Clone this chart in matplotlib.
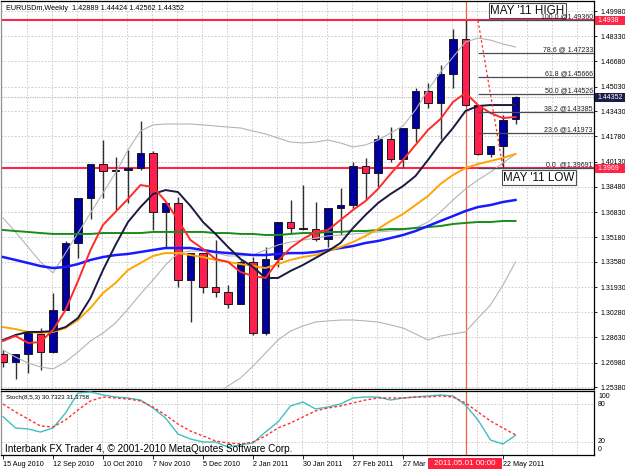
import numpy as np
import matplotlib
matplotlib.use("Agg")
import matplotlib.pyplot as plt
import matplotlib.transforms as mtransforms
from matplotlib.patches import Rectangle

plt.rcParams['font.family'] = ['Liberation Sans', 'DejaVu Sans']

# ---------------- data ----------------
header_text = "EURUSDm,Weekly  1.42889 1.44424 1.42562 1.44352"
stoch_text = "Stoch(8,5,3) 30.7323 31.3758"
copyright_text = "Interbank FX Trader 4, \u00a9 2001-2010 MetaQuotes Software Corp."

date_label_bars = [0, 4, 8, 12, 16, 20, 24, 28, 32, 40]
date_labels = ["15 Aug 2010", "12 Sep 2010", "10 Oct 2010", "7 Nov 2010", "5 Dec 2010",
               "2 Jan 2011", "30 Jan 2011", "27 Feb 2011", "27 Mar", "22 May 2011"]
cursor_bar = 37
cursor_label = "2011.05.01 00:00"

opens = [1.2755, 1.2703, 1.2755, 1.2886, 1.2768, 1.3043, 1.3481, 1.3775, 1.3997, 1.3952,
         1.3958, 1.3971, 1.4069, 1.3684, 1.3742, 1.3239, 1.3415, 1.3193, 1.3160, 1.3082,
         1.3357, 1.2892, 1.3376, 1.3618, 1.3579, 1.3574, 1.3507, 1.3710, 1.3729, 1.3984,
         1.3939, 1.4161, 1.4030, 1.4233, 1.4475, 1.4396, 1.4586, 1.4815, 1.4383, 1.4063,
         1.4115, 1.42889]
highs = [1.2781, 1.2758, 1.2895, 1.2925, 1.3154, 1.3494, 1.3778, 1.4000, 1.4154, 1.4043,
         1.4089, 1.4279, 1.4082, 1.3745, 1.3782, 1.3418, 1.3418, 1.3500, 1.3206, 1.3370,
         1.3389, 1.3455, 1.3620, 1.3762, 1.3860, 1.3749, 1.3712, 1.3840, 1.4011, 1.4037,
         1.4187, 1.4239, 1.4236, 1.4494, 1.4527, 1.4645, 1.4880, 1.4936, 1.4386, 1.4118,
         1.4318, 1.44424]
lows = [1.2670, 1.2591, 1.2631, 1.2650, 1.2760, 1.3040, 1.3383, 1.3638, 1.3775, 1.3697,
        1.3742, 1.3958, 1.3566, 1.3448, 1.3193, 1.2964, 1.3154, 1.3128, 1.3056, 1.3080,
        1.2879, 1.2879, 1.3324, 1.3546, 1.3566, 1.3494, 1.3455, 1.3533, 1.3710, 1.3762,
        1.3847, 1.4011, 1.3978, 1.4141, 1.4364, 1.4161, 1.4494, 1.4380, 1.4056, 1.4043,
        1.3969, 1.42562]
closes = [1.2703, 1.2755, 1.2892, 1.2768, 1.3043, 1.3481, 1.3775, 1.3997, 1.3952, 1.3958,
          1.3971, 1.4069, 1.3684, 1.3742, 1.3239, 1.3415, 1.3193, 1.3160, 1.3082, 1.3357,
          1.2892, 1.3376, 1.3618, 1.3579, 1.3574, 1.3507, 1.3710, 1.3729, 1.3984, 1.3939,
          1.4161, 1.4030, 1.4233, 1.4475, 1.4396, 1.4586, 1.4815, 1.4383, 1.4063, 1.4115,
          1.4285, 1.44352]

ma_red = [1.2840, 1.2873, 1.2827, 1.2833, 1.2912, 1.3043, 1.3232, 1.3435, 1.3599, 1.3684,
          1.3769, 1.3860, 1.3847, 1.3755, 1.3631, 1.3500, 1.3442, 1.3376, 1.3357, 1.3291,
          1.3265, 1.3252, 1.3363, 1.3448, 1.3507, 1.3553, 1.3566, 1.3631, 1.3697, 1.3755,
          1.3834, 1.3932, 1.4024, 1.4122, 1.4220, 1.4292, 1.4403, 1.4462, 1.4383, 1.4331,
          1.4298, 1.4305]
ma_navy = [1.2846, 1.2879, 1.2899, 1.2899, 1.2905, 1.2931, 1.2990, 1.3121, 1.3304, 1.3468,
           1.3618, 1.3716, 1.3801, 1.3827, 1.3814, 1.3723, 1.3618, 1.3540, 1.3455, 1.3376,
           1.3324, 1.3252, 1.3252, 1.3298, 1.3337, 1.3383, 1.3428, 1.3481, 1.3579, 1.3664,
           1.3742, 1.3801, 1.3853, 1.3919, 1.4024, 1.4135, 1.4233, 1.4344, 1.4377, 1.4383,
           1.4383, 1.4383]
ma_orange = [1.2931, 1.2918, 1.2899, 1.2892, 1.2899, 1.2925, 1.2977, 1.3056, 1.3154, 1.3219,
             1.3304, 1.3350, 1.3396, 1.3415, 1.3415, 1.3402, 1.3389, 1.3370, 1.3357, 1.3343,
             1.3330, 1.3317, 1.3343, 1.3370, 1.3389, 1.3402, 1.3428, 1.3455, 1.3487, 1.3527,
             1.3572, 1.3625, 1.3670, 1.3729, 1.3788, 1.3867, 1.3926, 1.3971, 1.3997, 1.4017,
             1.4037, 1.4063]
ma_blue = [1.3389, 1.3370, 1.3350, 1.3330, 1.3317, 1.3324, 1.3343, 1.3370, 1.3389, 1.3402,
           1.3409, 1.3422, 1.3435, 1.3448, 1.3448, 1.3448, 1.3435, 1.3422, 1.3415, 1.3409,
           1.3402, 1.3402, 1.3409, 1.3415, 1.3415, 1.3422, 1.3435, 1.3448, 1.3461, 1.3481,
           1.3494, 1.3513, 1.3533, 1.3559, 1.3592, 1.3625, 1.3657, 1.3690, 1.3716, 1.3729,
           1.3749, 1.3762]
ma_green = [1.3566, 1.3559, 1.3553, 1.3546, 1.3540, 1.3540, 1.3540, 1.3540, 1.3546, 1.3546,
            1.3546, 1.3546, 1.3553, 1.3553, 1.3553, 1.3553, 1.3553, 1.3546, 1.3546, 1.3540,
            1.3540, 1.3533, 1.3533, 1.3540, 1.3546, 1.3546, 1.3553, 1.3553, 1.3559, 1.3559,
            1.3566, 1.3572, 1.3572, 1.3579, 1.3585, 1.3592, 1.3605, 1.3612, 1.3618, 1.3618,
            1.3625, 1.3625]
bb_upper = [1.3644, 1.3553, 1.3455, 1.3357, 1.3285, 1.3415, 1.3546, 1.3677, 1.3808, 1.3939,
            1.4089, 1.4213, 1.4253, 1.4259, 1.4259, 1.4259, 1.4253, 1.4246, 1.4239, 1.4233,
            1.4213, 1.4194, 1.4167, 1.4141, 1.4135, 1.4141, 1.4154, 1.4135, 1.4109, 1.4122,
            1.4154, 1.4200, 1.4246, 1.4351, 1.4481, 1.4599, 1.4697, 1.4795, 1.4821, 1.4808,
            1.4782, 1.4763]
bb_middle = [1.2781, 1.2735, 1.2696, 1.2670, 1.2657, 1.2703, 1.2768, 1.2840, 1.2892, 1.2958,
             1.3049, 1.3147, 1.3239, 1.3337, 1.3415, 1.3428, 1.3428, 1.3415, 1.3396, 1.3396,
             1.3402, 1.3435, 1.3468, 1.3487, 1.3500, 1.3513, 1.3527, 1.3533, 1.3540, 1.3546,
             1.3553, 1.3559, 1.3566, 1.3579, 1.3618, 1.3684, 1.3762, 1.3834, 1.3893, 1.3945,
             1.4004, 1.4063]
bb_lower = [np.nan] * 17 + [1.2487, 1.2546, 1.2598, 1.2676, 1.2761, 1.2846, 1.2905, 1.2938,
                            1.2964, 1.2971, 1.2977, 1.2977, 1.2971, 1.2964, 1.2945, 1.2925,
                            1.2886, 1.2846, 1.2873, 1.2886, 1.2899, 1.2990, 1.3075, 1.3206,
                            1.3357]

stoch_k = [60.0, 42.2, 40.6, 35.9, 42.2, 65.6, 96.9, 98.4, 93.8, 90.6,
           89.1, 85.9, 73.4, 57.8, 32.8, 25.0, 20.3, 20.3, 12.5, 15.6,
           18.8, 35.9, 51.6, 76.6, 82.8, 71.9, 75.0, 79.7, 89.1, 90.6,
           90.6, 85.9, 89.1, 90.6, 92.2, 93.8, 92.2, 78.1, 54.7, 23.4,
           17.2, 30.7323]
stoch_d = [79.7, 67.2, 56.3, 45.3, 43.8, 54.7, 70.3, 84.4, 90.6, 89.1,
           87.5, 84.4, 75.0, 62.5, 48.4, 37.5, 29.7, 21.9, 18.8, 17.2,
           20.3, 29.7, 42.2, 50.0, 59.4, 68.8, 73.4, 76.6, 81.3, 85.9,
           89.1, 89.1, 89.1, 90.6, 90.6, 92.2, 90.6, 81.3, 67.2, 53.1,
           42.2, 31.3758]

price_ticks = [1.49980, 1.48330, 1.46680, 1.45030, 1.43430, 1.41780, 1.40130, 1.38480,
               1.36830, 1.35180, 1.33580, 1.31930, 1.30280, 1.28630, 1.26980, 1.25380]
price_tick_labels = ["%.5f" % t for t in price_ticks]

fib_prices = [1.49360, 1.47233, 1.45666, 1.44526, 1.43385, 1.41973, 1.39691]
fib_labels = ["100.0 @1.49360", "78.6 @ 1.47233", "61.8 @1.45666", "50.0 @1.44526",
              "38.2 @1.43385", "23.6 @1.41973", "0.0  @1.39691"]
fib_start_bar = 38
fib_end_bar = 40

may_high = 1.4938
may_low = 1.3969
last_price = 1.44352
high_note = "MAY '11 HIGH"
low_note = "MAY '11 LOW"
high_note_anchor = (39.0, 1.5001)
low_note_anchor = (40.0, 1.3909)

# ---------------- layout ----------------
W, H = 625, 469
fig = plt.figure(figsize=(W / 100, H / 100), dpi=100)
fig.patch.set_facecolor('white')


def fx(px):
    return px / W


def fy(py):
    return 1.0 - py / H


PX_L, PX_R = 1, 594
P_TOP, P_BOT = 1, 389
S_TOP, S_BOT = 391, 455

ax1 = fig.add_axes([fx(PX_L), fy(P_BOT), fx(PX_R) - fx(PX_L), fy(P_TOP) - fy(P_BOT)])
ax2 = fig.add_axes([fx(PX_L), fy(S_BOT), fx(PX_R) - fx(PX_L), fy(S_TOP) - fy(S_BOT)])

bar_px0, bar_step = 3.0, 12.5
xmin = (PX_L - bar_px0) / bar_step
xmax = (PX_R - bar_px0) / bar_step
ylo, yhi = 1.252594, 1.506346
ppx = (yhi - ylo) / (P_BOT - P_TOP)
for a in (ax1, ax2):
    a.set_xlim(xmin, xmax)
    a.set_facecolor('white')
    for s in a.spines.values():
        s.set_color('#000000')
        s.set_linewidth(0.9)
    a.spines['left'].set_color('#909090')
ax1.set_ylim(ylo, yhi)
ax2.set_ylim(0, 100)

# grid
grid_kw = dict(color='#c6c6c6', lw=0.6, ls=(0, (2, 2)), zorder=0)
for m in range(1, 24):
    xg = 2 * m - 0.08
    ax1.axvline(xg, **grid_kw)
    ax2.axvline(xg, **grid_kw)
for t in price_ticks:
    ax1.axhline(t, **grid_kw)
ax2.axhline(20, **grid_kw)
ax2.axhline(80, **grid_kw)

# reference lines
ax1.axhline(last_price, color='#b4b4b4', lw=0.8, ls=(0, (1, 1)), zorder=1)
ax1.axhline(may_high, color='#ff2448', lw=1.5, zorder=2)
ax1.axhline(may_low, color='#ff2448', lw=1.5, zorder=2)
ax1.axvline(cursor_bar, color='#ee6040', lw=0.9, zorder=2)
ax2.axvline(cursor_bar, color='#ee6040', lw=0.9, zorder=2)

# candles
o = np.array(opens); h = np.array(highs); l = np.array(lows); c = np.array(closes)
x = np.arange(len(o))
bull = c >= o
bottom = np.minimum(o, c)
height = np.maximum(np.abs(c - o), 0.0004)
ax1.vlines(x, l, h, color='#303030', lw=1.0, zorder=3)
ax1.bar(x, height, bottom=bottom, width=0.62,
        color=np.where(bull, '#0000a0', '#ff1f4f'),
        edgecolor='#1a1a1a', linewidth=0.7, zorder=4)

# indicators
ax1.plot(x, bb_upper, color='#b4b4b4', lw=0.8, zorder=5)
ax1.plot(x, bb_middle, color='#b4b4b4', lw=0.8, zorder=5)
ax1.plot(x, bb_lower, color='#b4b4b4', lw=0.8, zorder=5)
ax1.plot(x, ma_green, color='#1a8c1a', lw=1.4, zorder=5)
ax1.plot(x, ma_blue, color='#1a1aff', lw=1.8, zorder=5)
ax1.plot(x, ma_orange, color='#ffa500', lw=1.4, zorder=5)
ax1.plot(x, ma_navy, color='#1a1a40', lw=1.4, zorder=6)
ax1.plot(x, ma_red, color='#ff2a2a', lw=1.4, zorder=6)

# fibonacci
ax1.plot([fib_start_bar, fib_end_bar], [fib_prices[0], may_low], color='#ff2a2a',
         lw=0.9, ls=(0, (2, 2)), zorder=6)
ax1.hlines(fib_prices, fib_start_bar, xmax, colors='#4a4a58', lw=0.9, zorder=6)

# notes
ax1.text(high_note_anchor[0], high_note_anchor[1], high_note, ha='left', va='center',
         fontsize=8.4, color='#101010', zorder=8,
         bbox=dict(boxstyle='square,pad=0.12', fc='white', ec='#505050', lw=0.8))
ax1.text(low_note_anchor[0], low_note_anchor[1], low_note, ha='left', va='center',
         fontsize=8.4, color='#101010', zorder=8,
         bbox=dict(boxstyle='square,pad=0.12', fc='white', ec='#505050', lw=0.8))
for p, lbl in zip(fib_prices, fib_labels):
    ax1.annotate(lbl, xy=(xmax, p), xytext=(-0.8, 1.3), textcoords='offset points',
                 ha='right', va='baseline', fontsize=5.0, color='#202020', zorder=9)

# stochastic
ax2.plot(x, stoch_k, color='#40c0c0', lw=1.0, zorder=4)
ax2.plot(x, stoch_d, color='#ff3030', lw=1.0, ls=(0, (2, 1.6)), zorder=4)

# axes ticks
ax1.yaxis.tick_right()
ax1.set_yticks(price_ticks)
ax1.set_yticklabels(price_tick_labels)
ax1.tick_params(axis='y', direction='out', length=2.5, width=0.6, pad=2.0,
                labelsize=5.0, colors='#000000')
ax1.set_xticks([])
ax2.set_yticks([])
ax2.set_xticks(date_label_bars)
ax2.set_xticklabels(date_labels, ha='left')
ax2.tick_params(axis='x', direction='out', length=3, width=0.6, pad=1.5,
                labelsize=5.2, colors='#000000')

# right price markers
tr = mtransforms.blended_transform_factory(fig.transFigure, ax1.transData)
for p, txt, col in [(may_high, '1.4938', '#ff2448'), (last_price, '1.44352', '#1c1c4a'),
                    (may_low, '1.3969', '#ff2448')]:
    fig.add_artist(Rectangle((fx(594.5), p - 4.5 * ppx), 1 - fx(594.5), 9 * ppx,
                             transform=tr, facecolor=col, edgecolor='none', zorder=10))
    fig.text(fx(597.5), p, txt, transform=tr, color='white', fontsize=5.0,
             ha='left', va='center', zorder=11)

# stoch level labels
for txt, py in [('100', 396), ('80', 404), ('20', 441), ('0', 449)]:
    fig.text(fx(598), fy(py), txt, fontsize=5.0, ha='left', va='center', color='#000000')

# header texts
fig.text(fx(6), fy(8), header_text, fontsize=5.2, ha='left', va='center', color='#000000')
fig.text(fx(6), fy(397), stoch_text, fontsize=4.5, ha='left', va='center', color='#000000')
fig.text(fx(5), fy(452), copyright_text, fontsize=7.2, ha='left', va='baseline',
         color='#000000', zorder=5)

# cursor date box
fig.add_artist(Rectangle((fx(428), fy(469)), fx(502) - fx(428), fy(458) - fy(469),
                         transform=fig.transFigure, facecolor='#ff2040',
                         edgecolor='none', zorder=10))
fig.text(fx(465), fy(463.5), cursor_label, fontsize=5.8, color='white',
         ha='center', va='center', zorder=11)

fig.savefig('out.png', dpi=100, facecolor='white')
